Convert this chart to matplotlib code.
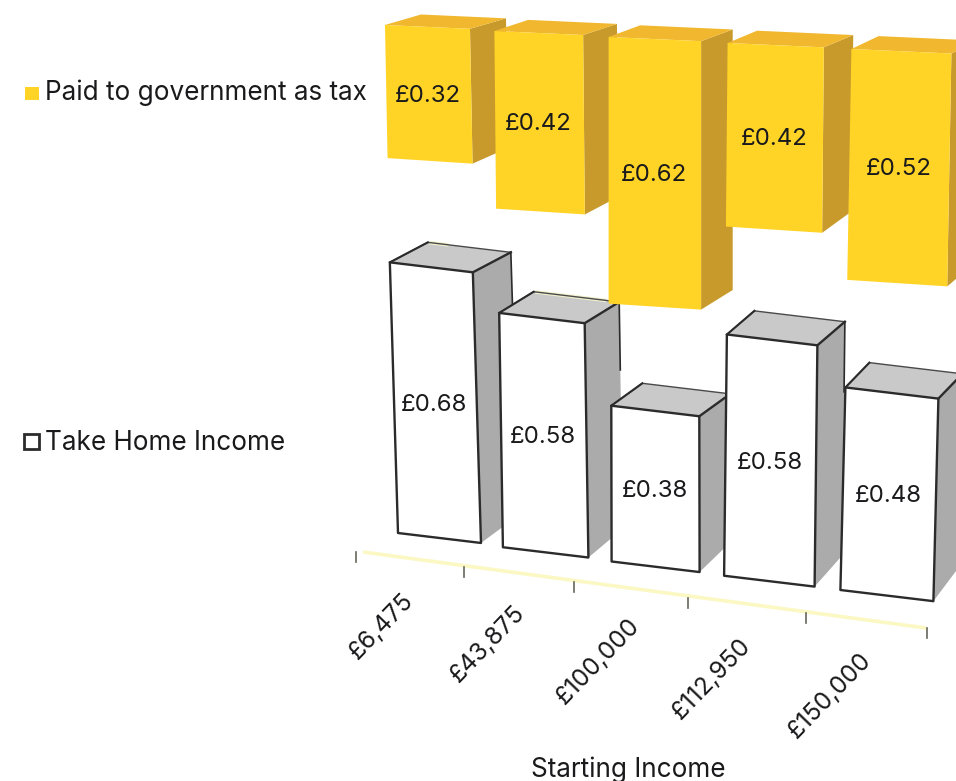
import matplotlib
matplotlib.use("Agg")
import matplotlib.pyplot as plt
from matplotlib.patches import Polygon, Rectangle

# Per-pound split of income at each starting income band
incomes = ["£6,475", "£43,875", "£100,000", "£112,950", "£150,000"]
tax_paid = [0.32, 0.42, 0.62, 0.42, 0.52]
take_home = [0.68, 0.58, 0.38, 0.58, 0.48]
legend_tax = "Paid to government as tax"
legend_home = "Take Home Income"
x_title = "Starting Income"

FONT = "Inter"
INK = "#1a1a1c"
YELLOW_FRONT, YELLOW_SIDE, YELLOW_TOP = "#FFD426", "#C79A2B", "#F1B72E"
WHITE_FRONT, WHITE_SIDE, WHITE_TOP = "#FFFFFF", "#ABABAB", "#C9C9C9"
EDGE = "#2b2b2b"
AXIS_YELLOW = "#FBF8C4"
PALE_TOP = "#F3F2CF"

fig = plt.figure(figsize=(9.56, 7.81), dpi=100, facecolor="white")
ax = fig.add_axes([0, 0, 1, 1])
ax.set_xlim(0, 956)
ax.set_ylim(781, 0)
ax.axis("off")


def home_box(i, v):
    """Project a take-home column, standing on the floor, into the oblique view."""
    w = 83 + 2.5 * i
    s = 398 + 6 * i
    lean = -12 + 5.6 * i
    bl = (398 + 103 * i + 1.9 * i * i, 533 + 14.25 * i)
    br = (bl[0] + w, bl[1] + 0.12 * w)
    tl = (bl[0] + lean * v, bl[1] - s * v)
    tr = (br[0] + lean * v, br[1] - s * v)
    top_d = (38 - 3.5 * i, -20 - 1.2 * i)
    base_d = (38 - 3.5 * i, -28 - 1.0 * i)
    return tl, tr, br, bl, top_d, base_d


def tax_box(i, v):
    """Project a tax column, hanging from the ceiling, into the same view."""
    w = 85 + 3.75 * i
    s = 416 + 7 * i
    lean = 8 - 4 * i
    tl = (385 + 107 * i + 2.4 * i * i, 25 + 6 * i)
    tr = (tl[0] + w, tl[1] + 0.045 * w)
    bl = (tl[0] + lean * v, tl[1] + s * v)
    br = (tr[0] + lean * v, bl[1] + 0.065 * w)
    top_d = (36 - 2.2 * i, -10.5 - 0.6 * i)
    bottom_d = (36 - 2.2 * i, -16 - 1.8 * i)
    return tl, tr, br, bl, top_d, bottom_d


def shift(p, d):
    return (p[0] + d[0], p[1] + d[1])


def lerp(a, b, t):
    return (a[0] + (b[0] - a[0]) * t, a[1] + (b[1] - a[1]) * t)


def centre(*pts):
    return (sum(p[0] for p in pts) / len(pts), sum(p[1] for p in pts) / len(pts))


def polyline(pts, **kw):
    ax.plot([p[0] for p in pts], [p[1] for p in pts], **kw)


# Floor axis with its ticks
tick_pos = [(356.5 + 105.3 * k + 1.77 * k * k, 557 + 15.2 * k) for k in range(len(incomes) + 1)]
ax.plot([363, 926], [552, 628], color=AXIS_YELLOW, lw=2.6, solid_capstyle="butt", zorder=1)
for x, y in tick_pos:
    ax.plot([x, x], [y - 5, y + 5], color="#66665c", lw=1.2, zorder=1.5)

# Take-home columns, left to right so that each one hides the side of the last
for i, v in enumerate(take_home):
    tl, tr, br, bl, top_d, base_d = home_box(i, v)
    z = 2 + i * 0.1
    back_r, back_l = shift(tr, top_d), shift(tl, top_d)
    ax.add_patch(Polygon([br, tr, back_r, shift(br, base_d)], fc=WHITE_SIDE, ec="none", zorder=z))
    ax.add_patch(Polygon([tl, tr, back_r, back_l], fc=WHITE_TOP, ec="none", zorder=z + 0.01))
    if i < 2:
        # Pale sheen along the back of the first two tops
        reach = 0.25 if i == 0 else 0.85
        polyline([lerp(back_l, back_r, 0.02), lerp(back_l, back_r, reach)], color=PALE_TOP, lw=2.6,
                 solid_capstyle="butt", zorder=z + 0.015)
    polyline([tl, back_l, back_r], color="#4a4a4a", lw=1.0, zorder=z + 0.02)
    polyline([back_r, lerp(back_r, shift(br, base_d), 0.3)], color=EDGE, lw=1.2, zorder=z + 0.02)
    ax.add_patch(Polygon([tl, tr, br, bl], fc=WHITE_FRONT, ec=EDGE, lw=1.7, zorder=z + 0.03, joinstyle="round"))
    polyline([tl, back_l], color=EDGE, lw=1.5, zorder=z + 0.04)
    polyline([tr, back_r], color=EDGE, lw=1.7, zorder=z + 0.04)
    cx, cy = centre(tl, tr, br, bl)
    ax.text(cx - 1, cy + 2, f"£{v:.2f}", family=FONT, fontsize=17.3, color=INK, ha="center", va="center", zorder=6)

# Tax columns sit in front of the take-home tops
for i, v in enumerate(tax_paid):
    tl, tr, br, bl, top_d, bottom_d = tax_box(i, v)
    z = 4 + i * 0.1
    ax.add_patch(Polygon([tr, br, shift(br, bottom_d), shift(tr, top_d)], fc=YELLOW_SIDE, ec="none", zorder=z))
    ax.add_patch(Polygon([tl, tr, shift(tr, top_d), shift(tl, top_d)], fc=YELLOW_TOP, ec="none", zorder=z + 0.01))
    ax.add_patch(Polygon([tl, tr, br, bl], fc=YELLOW_FRONT, ec="none", zorder=z + 0.02))
    cx, cy = centre(tl, tr, br, bl)
    ax.text(cx - 1, cy + 2, f"£{v:.2f}", family=FONT, fontsize=17.3, color=INK, ha="center", va="center", zorder=6)

# Category labels along the floor
for k, label in enumerate(incomes):
    ax.text(382 + 104 * k + 2 * k * k, 626 + 17.5 * k, label, family=FONT, fontsize=17.6, color=INK,
            rotation=46, rotation_mode="anchor", ha="center", va="center", zorder=6)

ax.text(628, 769.5, x_title, family=FONT, fontsize=18.8, color=INK, ha="center", va="center")

# Legend entries
ax.add_patch(Rectangle((25, 86.5), 14, 13.5, fc=YELLOW_FRONT, ec="none"))
ax.text(45, 93, legend_tax, family=FONT, fontsize=18.8, color=INK, ha="left", va="center")
ax.add_patch(Rectangle((24, 434), 15, 15, fc="white", ec=EDGE, lw=2))
ax.text(45, 443, legend_home, family=FONT, fontsize=18.8, color=INK, ha="left", va="center")

fig.savefig("out.png", dpi=100, facecolor="white")
